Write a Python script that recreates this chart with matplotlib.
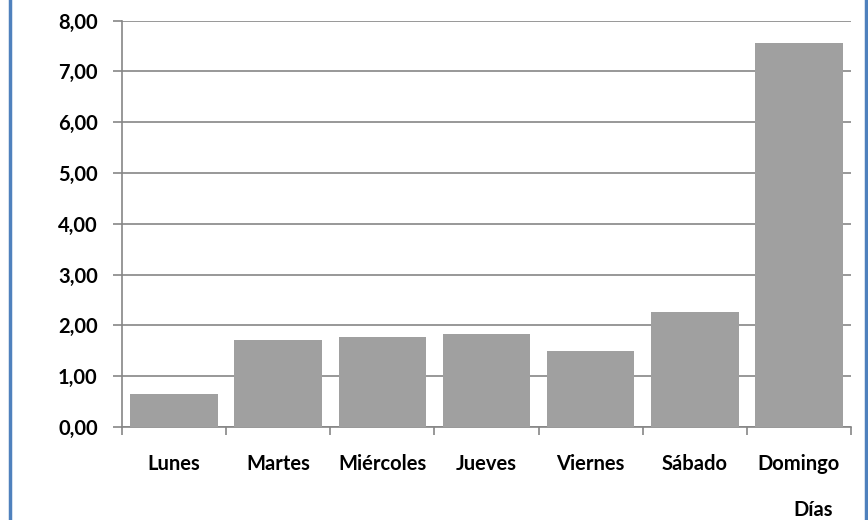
import matplotlib
matplotlib.use("Agg")
import matplotlib.pyplot as plt
from matplotlib.lines import Line2D
import numpy as np

categories = ["Lunes", "Martes", "Miércoles", "Jueves", "Viernes", "Sábado", "Domingo"]
values = [0.65, 1.71, 1.77, 1.84, 1.50, 2.27, 7.55]
yticks = [0, 1, 2, 3, 4, 5, 6, 7, 8]
xlabel = "Días"

plt.rcParams['font.family'] = ['Lato', 'DejaVu Sans']

W, H = 868, 520
fig = plt.figure(figsize=(W / 100, H / 100), dpi=100)
ax = fig.add_axes([122 / W, 1 - 427 / H, (851 - 122) / W, (427 - 20.6) / H])

x = np.arange(len(categories))
ax.bar(x, values, width=0.84, color="#A0A0A0", zorder=3)

gray = "#868686"
fs = 14.5
ax.set_ylim(0, 8)
ax.set_xlim(-0.5, len(categories) - 0.5)
ax.set_yticks(yticks)
ax.set_yticklabels([f"{v:.2f}".replace(".", ",") for v in yticks],
                   fontsize=fs, fontweight="bold")
ax.yaxis.grid(True, color=gray, linewidth=1.2, zorder=0)
ax.set_axisbelow(True)

ax.set_xticks(x)
ax.set_xticklabels(categories, fontsize=fs, fontweight="bold")
ax.set_xticks(np.arange(-0.5, len(categories)), minor=True)
ax.tick_params(axis="x", which="major", length=0, pad=19.5)
ax.tick_params(axis="x", which="minor", length=5.5, width=1.2, color=gray, direction="out")
ax.tick_params(axis="y", length=6.5, width=1.2, color=gray, pad=11)

for s in ["top", "right"]:
    ax.spines[s].set_visible(False)
for s in ["left", "bottom"]:
    ax.spines[s].set_color(gray)
    ax.spines[s].set_linewidth(1.2)

fig.text(813 / W, 1 - 510 / H, xlabel, fontsize=fs, fontweight="bold",
         ha="center", va="center")

blue = "#4F81BD"
fig.add_artist(Line2D([10 / W, 10 / W], [0, 1], color=blue, linewidth=2.5,
                      transform=fig.transFigure))
fig.add_artist(Line2D([865.5 / W, 865.5 / W], [0, 1], color=blue, linewidth=2.5,
                      transform=fig.transFigure))

fig.savefig("out.png", dpi=100)
